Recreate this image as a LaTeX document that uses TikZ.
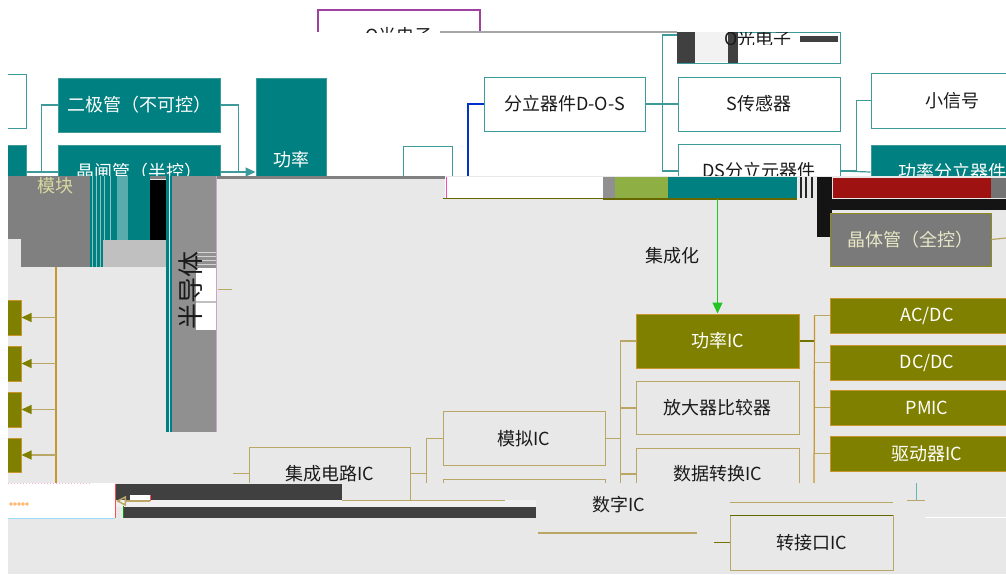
\documentclass[tikz,border=0pt]{standalone}
\usepackage{fontspec}
\setmainfont{Noto Sans CJK SC}
\usetikzlibrary{arrows.meta}
\definecolor{tl}{HTML}{008080}
\definecolor{tlb}{HTML}{3E9A9A}
\definecolor{ol}{HTML}{808000}
\definecolor{olb}{HTML}{C8962E}
\definecolor{bgc}{HTML}{E8E8E8}
\definecolor{tanc}{HTML}{BBA765}
\definecolor{dk}{HTML}{404040}
\definecolor{rd}{HTML}{9E1212}
\definecolor{gn}{HTML}{8DAF44}
\definecolor{grf}{HTML}{808080}
\definecolor{grn}{HTML}{909090}
\definecolor{grc}{HTML}{C0C0C0}
\definecolor{garr}{HTML}{22C322}
\definecolor{pur}{HTML}{A040A0}
\definecolor{lyel}{HTML}{D8D8A0}
\definecolor{txt}{HTML}{1A1A1A}
\tikzset{
  box/.style={draw, line width=1pt, inner sep=0pt, font=\fontsize{18}{20}\selectfont},
  tbox/.style={box, fill=tl, draw=tlb, text=white},
  wbox/.style={box, fill=white, draw=tlb, text=txt},
  obox/.style={box, fill=ol, draw=olb, text=white},
  gbox/.style={box, fill=bgc, draw=tanc, text=txt},
  ln/.style={draw=tlb, line width=1.2pt},
  oln/.style={draw=tanc, line width=1.2pt},
  lbl/.style={inner sep=0pt, font=\fontsize{18}{20}\selectfont, text=txt}
}
\begin{document}
\begin{tikzpicture}[x=1pt,y=-1pt]
\useasboundingbox (0,0) rectangle (1006,574);
\fill[white] (0,0) rectangle (1006,574);

% ---------- top part ----------
\begin{scope}
  \clip (318,0) rectangle (480,32);
  \node[lbl] (qoe) at (399,37) {Q光电子};
\end{scope}
\draw[pur, line width=1.2pt] (318,32) |- (480,10) -- (480,32);
\draw[grf!70, line width=1.5pt] (440,32) -- (677,32);

\node[wbox, minimum width=36pt, minimum height=54pt] (lw) at (8,101) {};
\node[tbox, minimum width=36pt, minimum height=54pt] (lt) at (8,172) {};
\node[tbox, minimum width=162pt, minimum height=54pt] (dio) at (139,105) {二极管（不可控）};
\node[tbox, minimum width=162pt, minimum height=54pt] (thy) at (139,172) {晶闸管（半控）};
\node[tbox, minimum width=70pt, minimum height=122pt] (mod) at (291,139) {};
\node[lbl, text=white] (modt) at (291,160) {功率};
\draw[ln] (dio.west) -- ++(-16,0) |- (thy.west);
\draw[ln] (lt.east) -- (thy.west);
\draw[ln] (thy.east) -- ++(18,0);
\draw[ln, -{Triangle[length=10pt,width=9pt]}] (dio.east) -- ++(18,0) |- (mod.west |- thy.east);

\node[wbox, minimum width=49pt, minimum height=32pt] (smallw) at (427.5,162) {};
\node[wbox, minimum width=161pt, minimum height=54pt] (dos) at (564.5,104) {分立器件D-O-S};
\coordinate (dsrc) at (468,178);
\draw[ln, draw=blue!60!tl] (dsrc) |- (dos.west);

\node[wbox, minimum width=163pt, minimum height=31pt] (oel) at (758.5,47.5) {};
\fill[dk] (677,32) rectangle (695,63);
\fill[white!95!black] (695,32) rectangle (728,62);
\fill[dk] (728,32) rectangle (738,63);
\begin{scope}
  \clip (722,32) rectangle (800,44);
  \node[lbl] (oelt) at (758,39) {O光电子};
\end{scope}
\fill[dk] (800,36) rectangle (838,42);
\coordinate (oelstub) at (677,35);
\node[wbox, minimum width=162pt, minimum height=54pt] (sen) at (759,104) {S传感器};
\node[wbox, minimum width=162pt, minimum height=54pt] (dsd) at (759,171) {DS分立元器件};
\draw[ln] (dos.east) -- ++(17,0) coordinate (dj);
\draw[ln] (dj) |- (oelstub);
\draw[ln] (dj) -- (sen.west);
\draw[ln] (dj) |- (dsd.west);

\node[wbox, minimum width=162pt, minimum height=55pt] (sig) at (952,100.5) {小信号};
\node[tbox, minimum width=162pt, minimum height=54pt] (pwd) at (952,172) {功率分立器件};
\draw[ln] (dsd.east) -- ++(16,0) |- (sig.west);
\draw[ln] (dsd.east) -- (pwd.west);

% ---------- glitch band ----------
\fill[bgc] (8,176) rectangle (1006,574);
\fill[grf] (8,176) rectangle (445,179);
\fill[grf] (8,176) rectangle (90,267);
\fill[bgc] (8,239) rectangle (21,267);
\node[lbl, text=lyel] (modk) at (55,186) {模块};
\fill[tl] (90,176) rectangle (150,240);
\fill[tl] (90,240) rectangle (103,267);
\foreach \xx in {92,96,100,104,110} \draw[tlb!60!white, line width=0.8pt] (\xx,176) -- (\xx,267);
\fill[tl!65!white] (117,176) rectangle (128,240);
\fill[black] (150,180) rectangle (166,240);
\fill[grc] (103,240) rectangle (166,267);
\fill[tl] (166,176) rectangle (172,432);
\draw[white!80!cyan, line width=0.8pt] (169,176) -- (169,432);
\fill[grn] (172,176) rectangle (216,432);
\draw[pur!50, line width=0.8pt] (216,176) -- (216,432);
\fill[white] (196,268) rectangle (216,330);
\draw[grc, line width=2pt] (196,302) -- (216,302);
\foreach \yy in {252,256,260,264} \draw[grc!70, line width=1pt] (196,\yy) -- (216,\yy);
\node[inner sep=0pt, rotate=90, font=\fontsize{26}{28}\selectfont, text=txt] (semi) at (191,290) {半导体};
\draw[tanc, line width=1pt] (218,289) -- (232,289);

\fill[white] (445,177) rectangle (603,198);
\draw[magenta!70, line width=1pt] (446,177) -- (446,198);
\draw[ol!80!black, line width=1.5pt] (443,198.5) -- (603,198.5);
\fill[grn] (603,177) rectangle (615,198);
\fill[gn] (615,177) rectangle (668,198);
\fill[tl] (668,177) rectangle (797,198);
\draw[ol!80!black, line width=1.2pt] (603,199) -- (797,199);
\foreach \xx in {800,805,811} \fill[black!85] (\xx,177) rectangle (\xx+2,198);
\fill[black!92] (817,177) rectangle (832,237);
\fill[rd] (833,178) rectangle (991,198);
\fill[grf!110] (991,178) rectangle (1006,198);
\fill[black!92] (828,199) rectangle (1006,210);
\node[box, fill=grf!105, draw=ol!70!tanc, text=lyel!60!white, minimum width=161pt, minimum height=53pt] (jtg) at (910.5,239.5) {晶体管（全控）};
\coordinate (jtgr) at (1006,238);
\draw[oln] (jtg.east) -- (jtgr);

% ---------- integrated circuits ----------
\coordinate (gsrc) at (717.5,199);
\node[lbl] (jch) at (672,256) {集成化};
\node[obox, minimum width=163pt, minimum height=54pt] (gic) at (717.5,341) {功率IC};
\draw[garr, line width=1.2pt, -{Triangle[length=11pt,width=10pt]}] (gsrc) -- (gic.north);
\node[gbox, minimum width=163pt, minimum height=53pt] (amp) at (717.5,408) {放大器比较器};
\node[gbox, minimum width=163pt, minimum height=52pt] (adc) at (717.5,474) {数据转换IC};
\node[gbox, minimum width=162pt, minimum height=54pt] (ana) at (524,438.5) {模拟IC};
\node[gbox, minimum width=162pt, minimum height=52pt] (dig2) at (524,505) {};
\node[gbox, minimum width=161pt, minimum height=53pt] (ic) at (329.5,473.5) {集成电路IC};
\draw[oln] (ic.west) -- ++(-16,0);
\draw[oln] (ic.east) -- ++(16,0) coordinate (icj);
\draw[oln] (icj) |- (ana.west);
\draw[oln] (icj) -- ++(0,20);
\draw[oln] (ana.east) -- ++(15,0) coordinate (aj);
\draw[oln] (aj) |- (gic.west);
\draw[oln] (aj) |- (amp.west);
\draw[oln] (aj) |- (adc.west);
\draw[oln] (aj) -- ++(0,50);

\node[obox, minimum width=194pt, minimum height=35pt] (acdc) at (927,315.5) {AC/DC};
\node[obox, minimum width=194pt, minimum height=35pt] (dcdc) at (927,362.5) {DC/DC};
\node[obox, minimum width=194pt, minimum height=35pt] (pmic) at (927,407.5) {PMIC};
\node[obox, minimum width=194pt, minimum height=35pt] (drv) at (927,453.5) {驱动器IC};
\draw[draw=ol!90!black, line width=1.2pt] (gic.east) -- ++(15,0) coordinate (gj);
\draw[oln] (gj) |- (acdc.west);
\draw[oln] (gj) |- (dcdc.west);
\draw[oln] (gj) |- (pmic.west);
\draw[oln] (gj) |- (drv.west);
\draw[olb, line width=1.2pt] (gj |- acdc.west) -- (814,483);

% left column
\node[obox, minimum width=32pt, minimum height=35pt] (lb1) at (5,317.5) {};
\node[obox, minimum width=32pt, minimum height=35pt] (lb2) at (5,363.5) {};
\node[obox, minimum width=32pt, minimum height=35pt] (lb3) at (5,409.5) {};
\node[obox, minimum width=32pt, minimum height=34pt] (lb4) at (5,455) {};
\coordinate (lc) at (56,267);
\draw[olb, line width=1.2pt] (lc) -- (56,483);
\foreach \b in {lb1,lb2,lb3,lb4}
  \draw[oln, -{Triangle[length=10pt,width=9pt,color=ol]}] (lc |- \b.east) -- (\b.east);

% ---------- bottom glitch ----------
\fill[bgc] (8,483) rectangle (1006,574);
\fill[white] (8,483) rectangle (115,518);
\draw[magenta!30, dotted, line width=1pt] (8,483) -- (90,483);
\draw[cyan!40, line width=0.6pt] (8,518) -- (115,518);
\foreach \xx in {11,15,19,23,27} \draw[orange!70, line width=0.6pt] (\xx,504) circle (1.4pt);
\fill[dk] (115,484) rectangle (342,500);
\fill[white!94!black] (116,500) rectangle (536,507);
\fill[white] (130,495) rectangle (150,501);
\draw[red!70, line width=0.8pt] (150,495) -- (150,501);
\coordinate (abeg) at (150,501);
\coordinate (aend) at (116,501);
\draw[tanc, line width=1.5pt, -{Triangle[open,length=10pt,width=10pt]}] (abeg) -- (aend);
\fill[dk] (123,507) rectangle (536,518);
\draw[red!70, line width=1pt] (115,484) -- (115,518);
\draw[green!60!black, line width=1pt] (123,506) -- (123,518);
\draw[tanc, line width=1pt] (410,483) -- (410,500);
\draw[tanc, line width=1pt] (342,500) -- (505,500);

\node[lbl] (dig) at (619,505) {数字IC};
\draw[tanc, line width=1.2pt] (538,533) -- (697,533);
\draw[tanc, line width=1pt] (730,502) -- (893,502);
\draw[tl!60, line width=1pt] (916,483) -- (916,500);
\draw[tanc, line width=1pt] (907,500) -- (925,500);
\draw[white, line width=1pt] (925,517) -- (1006,517);
\node[gbox, minimum width=163pt, minimum height=55pt] (zjk) at (811.5,542.5) {转接口IC};
\draw[ol!80!black, line width=1.5pt] (730,515.5) -- (893,515.5);
\draw[draw=ol!90!black, line width=1.2pt] (zjk.west) -- ++(-16,0);

\fill[white] (0,0) rectangle (8,574);
\end{tikzpicture}
\end{document}
